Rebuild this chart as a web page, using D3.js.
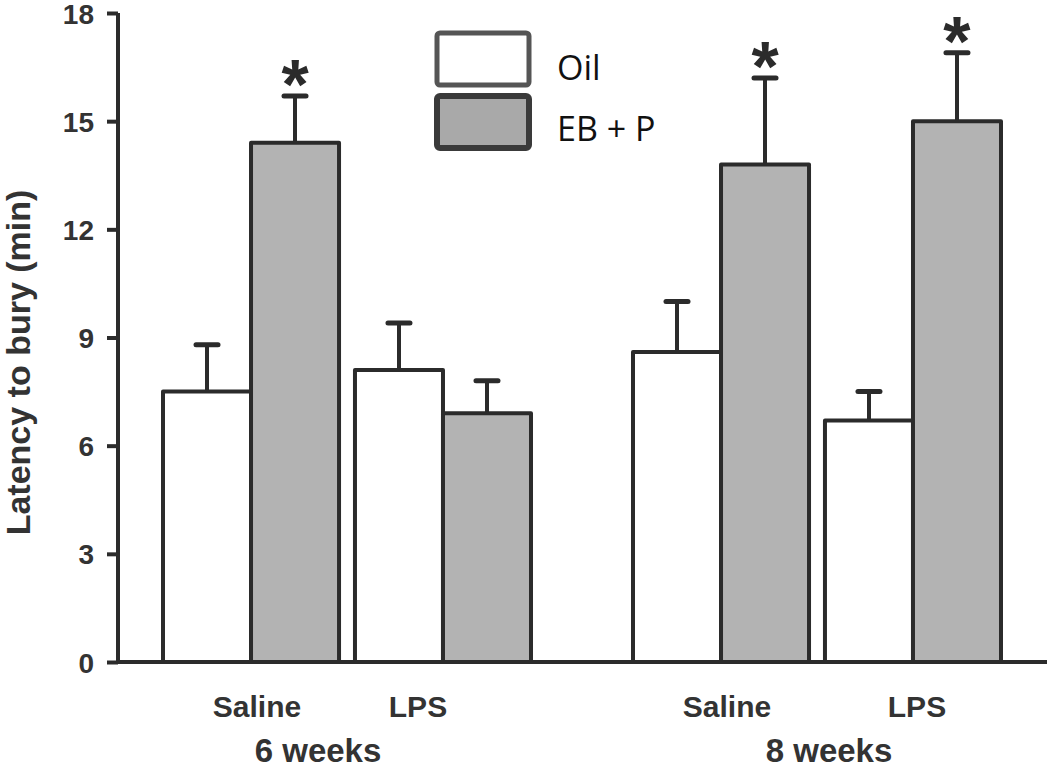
<!DOCTYPE html>
<html>
<head>
<meta charset="utf-8">
<script src="https://cdn.jsdelivr.net/npm/d3@7"></script>
<style>
  html, body { margin: 0; padding: 0; background: #fff; }
  svg { display: block; }
</style>
</head>
<body>
<svg id="chart" width="1050" height="772"></svg>
<script>
// ---- data ----
const weeks = ["6 weeks", "8 weeks"];
const treatments = ["Saline", "LPS"];
const series = ["Oil", "EB + P"];
// mean values [week][treatment] per series
const oilMeans = [[7.5, 8.1], [8.6, 6.7]];
const ebpMeans = [[14.4, 6.9], [13.8, 15.0]];
// upper error (mean + SEM)
const oilErrTop = [[8.8, 9.4], [10.0, 7.5]];
const ebpErrTop = [[15.7, 7.8], [16.2, 16.9]];
// significance markers
const ebpSig = [[true, false], [true, true]];
const oilSig = [[false, false], [false, false]];
const yTicks = [0, 3, 6, 9, 12, 15, 18];
const yLabel = "Latency to bury (min)";

// ---- build rows ----
const rows = [];
weeks.forEach((w, wi) => treatments.forEach((t, ti) => {
  rows.push({week: w, treat: t, series: "Oil", value: oilMeans[wi][ti], err: oilErrTop[wi][ti], sig: oilSig[wi][ti]});
  rows.push({week: w, treat: t, series: "EB + P", value: ebpMeans[wi][ti], err: ebpErrTop[wi][ti], sig: ebpSig[wi][ti]});
}));

const svg = d3.select("#chart");
const ink = "#2b2b2b";
const fills = {"Oil": "#ffffff", "EB + P": "#b3b3b3"};
const font = "'Liberation Sans', Arial, sans-serif";

const y = d3.scaleLinear().domain([0, 18]).range([662, 13]);
const xWeek = d3.scaleBand().domain(weeks).range([163, 1001]).paddingInner(0.217).paddingOuter(0);
const xTreat = d3.scaleBand().domain(treatments).range([0, xWeek.bandwidth()]).paddingInner(0.083).paddingOuter(0);
const xSeries = d3.scaleBand().domain(series).range([0, xTreat.bandwidth()]).padding(0);
const xPos = d => xWeek(d.week) + xTreat(d.treat) + xSeries(d.series);

const axisX = 118;

// error bars (drawn under bars)
const errG = svg.append("g");
rows.forEach(d => {
  const cx = xPos(d) + xSeries.bandwidth() / 2;
  errG.append("line").attr("x1", cx).attr("x2", cx).attr("y1", y(d.value)).attr("y2", y(d.err))
    .attr("stroke", ink).attr("stroke-width", 4);
  errG.append("line").attr("x1", cx - 11).attr("x2", cx + 11).attr("y1", y(d.err)).attr("y2", y(d.err))
    .attr("stroke", ink).attr("stroke-width", 5).attr("stroke-linecap", "round");
});

// bars
svg.append("g").selectAll("rect").data(rows).join("rect")
  .attr("x", d => xPos(d))
  .attr("y", d => y(d.value))
  .attr("width", xSeries.bandwidth())
  .attr("height", d => y(0) - y(d.value))
  .attr("fill", d => fills[d.series])
  .attr("stroke", ink).attr("stroke-width", 4).attr("stroke-linejoin", "round");

// significance stars
svg.append("g").selectAll("text").data(rows.filter(d => d.sig)).join("text")
  .attr("x", d => xPos(d) + xSeries.bandwidth() / 2)
  .attr("y", d => y(d.err) + 13)
  .attr("text-anchor", "middle")
  .attr("font-family", font).attr("font-weight", "bold").attr("font-size", 70)
  .attr("fill", ink).text("*");

// y axis
const yAxis = d3.axisLeft(y).tickValues(yTicks).tickSize(11).tickPadding(13);
const yg = svg.append("g").attr("transform", `translate(${axisX},0)`).call(yAxis);
yg.select(".domain").attr("d", `M0,${y(18)}V${y(0)}`).attr("stroke", ink).attr("stroke-width", 4);
yg.selectAll(".tick line").attr("stroke", ink).attr("stroke-width", 4);
yg.selectAll(".tick text").attr("font-family", font).attr("font-weight", "bold").attr("font-size", 28)
  .attr("fill", "#333").attr("dy", "0.36em");

// x axis baseline
svg.append("line").attr("x1", axisX - 2).attr("x2", 1047).attr("y1", y(0)).attr("y2", y(0))
  .attr("stroke", ink).attr("stroke-width", 4);

// category labels
const treatDx = {"6 weeks": {"Saline": 6, "LPS": -25}, "8 weeks": {"Saline": 6, "LPS": 4}};
weeks.forEach(w => treatments.forEach(t => {
  svg.append("text")
    .attr("x", xWeek(w) + xTreat(t) + xTreat.bandwidth() / 2 + treatDx[w][t])
    .attr("y", 717)
    .attr("text-anchor", "middle")
    .attr("font-family", font).attr("font-weight", "bold").attr("font-size", 30)
    .attr("fill", "#333").text(t);
}));
const weekDx = {"6 weeks": -29, "8 weeks": 12};
weeks.forEach(w => {
  svg.append("text")
    .attr("x", xWeek(w) + xWeek.bandwidth() / 2 + weekDx[w])
    .attr("y", 762)
    .attr("text-anchor", "middle")
    .attr("font-family", font).attr("font-weight", "bold").attr("font-size", 33)
    .attr("fill", "#333").text(w);
});

// y label
svg.append("text")
  .attr("transform", `translate(30, ${(y(0) + y(18)) / 2 + 25}) rotate(-90)`)
  .attr("text-anchor", "middle")
  .attr("font-family", font).attr("font-weight", "bold").attr("font-size", 34)
  .attr("fill", "#333").text(yLabel);

// legend
const legend = svg.append("g");
const legStroke = {"Oil": "#555555", "EB + P": "#3a3a3a"};
const legFill = {"Oil": "#ffffff", "EB + P": "#a9a9a9"};
series.forEach((s, i) => {
  legend.append("rect").attr("x", 437).attr("y", 33 + i * 63).attr("width", 92).attr("height", 52)
    .attr("rx", 3).attr("fill", legFill[s]).attr("stroke", legStroke[s]).attr("stroke-width", i ? 6 : 5);
  legend.append("text").attr("x", 557).attr("y", 80 + i * 61)
    .attr("font-family", "'Open Sans', 'Noto Sans', sans-serif").attr("font-size", 34)
    .attr("fill", "#111").text(s);
});
</script>
</body>
</html>
